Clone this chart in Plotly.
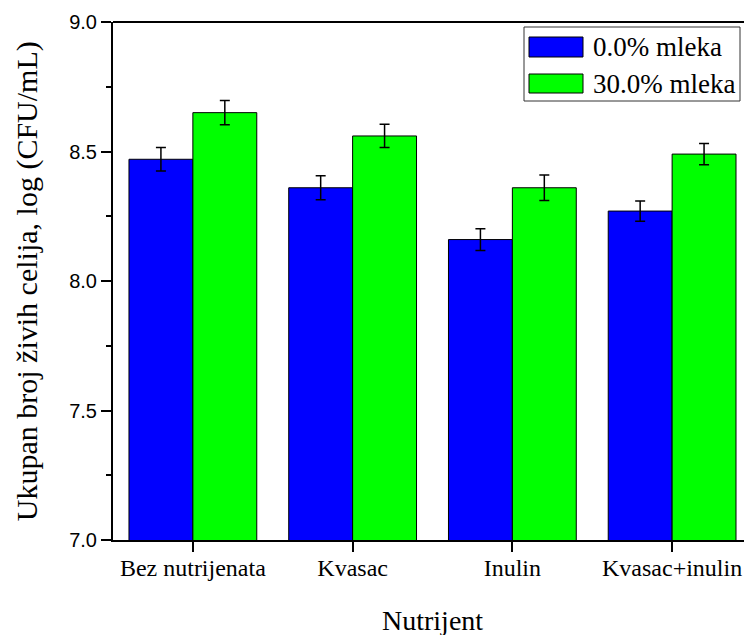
import plotly.graph_objects as go

categories = ["Bez nutrijenata", "Kvasac", "Inulin", "Kvasac+inulin"]
series_names = ["0.0% mleka", "30.0% mleka"]
values_0 = [8.47, 8.36, 8.16, 8.27]
errors_0 = [0.045, 0.046, 0.042, 0.039]
values_30 = [8.65, 8.56, 8.36, 8.49]
errors_30 = [0.047, 0.045, 0.049, 0.041]
y_ticks = [7.0, 7.5, 8.0, 8.5, 9.0]
y_ticktext = ["7.0", "7.5", "8.0", "8.5", "9.0"]
colors = ["#0000FF", "#00FF00"]

SERIF = "Liberation Serif"
SANS = "Liberation Sans"

fig = go.Figure()
for name, vals, errs, col in [(series_names[0], values_0, errors_0, colors[0]),
                              (series_names[1], values_30, errors_30, colors[1])]:
    fig.add_trace(go.Bar(
        x=categories, y=vals, name=name,
        marker=dict(color=col, line=dict(color="black", width=1)),
        error_y=dict(type="data", array=errs, visible=True, color="black",
                     thickness=1.5, width=5),
        showlegend=False,
    ))

fig.update_layout(
    width=744, height=635,
    margin=dict(l=113, r=0, t=22, b=95),
    paper_bgcolor="white", plot_bgcolor="white",
    barmode="group", bargap=0.2, bargroupgap=0,
    xaxis=dict(
        range=[-0.5, 3.45], showline=True, linecolor="black", linewidth=2,
        ticks="outside", ticklen=10, tickwidth=2, tickcolor="black",
        tickfont=dict(family=SERIF, size=24, color="black"),
        ticklabelstandoff=-5,
        showgrid=False, zeroline=False,
    ),
    yaxis=dict(
        range=[7.0, 9.0], showline=True, linecolor="black", linewidth=2,
        tickvals=y_ticks, ticktext=y_ticktext,
        ticks="outside", ticklen=10, tickwidth=2, tickcolor="black",
        tickfont=dict(family=SANS, size=20, color="black"),
        minor=dict(dtick=0.25, ticks="outside", ticklen=5, tickwidth=2, tickcolor="black", showgrid=False),
        showgrid=False, zeroline=False,
    ),
)

shapes = [
    dict(type="line", xref="paper", yref="paper", x0=0, x1=1, y0=1, y1=1,
         line=dict(color="black", width=2)),
]
annotations = [
    dict(text="Nutrijent", xref="paper", yref="paper", x=0.507, y=-0.155,
         xanchor="center", yanchor="middle", showarrow=False,
         font=dict(family=SERIF, size=28, color="black")),
    dict(text="Ukupan broj živih celija, log (CFU/mL)", xref="paper", yref="paper",
         x=-0.136, y=0.5, xanchor="center", yanchor="middle", textangle=-90,
         showarrow=False, font=dict(family=SERIF, size=30, color="black")),
]

# legend box (pixel -> paper conversion)
W0, W1, H0, H1 = 113, 744, 22, 540
def px(x):
    return (x - W0) / (W1 - W0)
def py(y):
    return (H1 - y) / (H1 - H0)

shapes.append(dict(type="rect", xref="paper", yref="paper",
                   x0=px(524), x1=px(740), y0=py(101), y1=py(27),
                   line=dict(color="#333333", width=1), fillcolor="white"))
rows = [(37, 57, 47), (74, 93, 83.5)]
for (t, b, c), name, col in zip(rows, series_names, colors):
    shapes.append(dict(type="rect", xref="paper", yref="paper",
                       x0=px(529), x1=px(583), y0=py(b), y1=py(t),
                       line=dict(color="black", width=1), fillcolor=col))
    annotations.append(dict(text=name, xref="paper", yref="paper",
                            x=px(591), y=py(c), xanchor="left", yanchor="middle",
                            showarrow=False,
                            font=dict(family=SERIF, size=27, color="black")))

fig.update_layout(shapes=shapes, annotations=annotations)
fig.write_html("out.html", config={"displayModeBar": False},
               post_script="document.body.style.margin='0';document.body.style.overflow='hidden';")
